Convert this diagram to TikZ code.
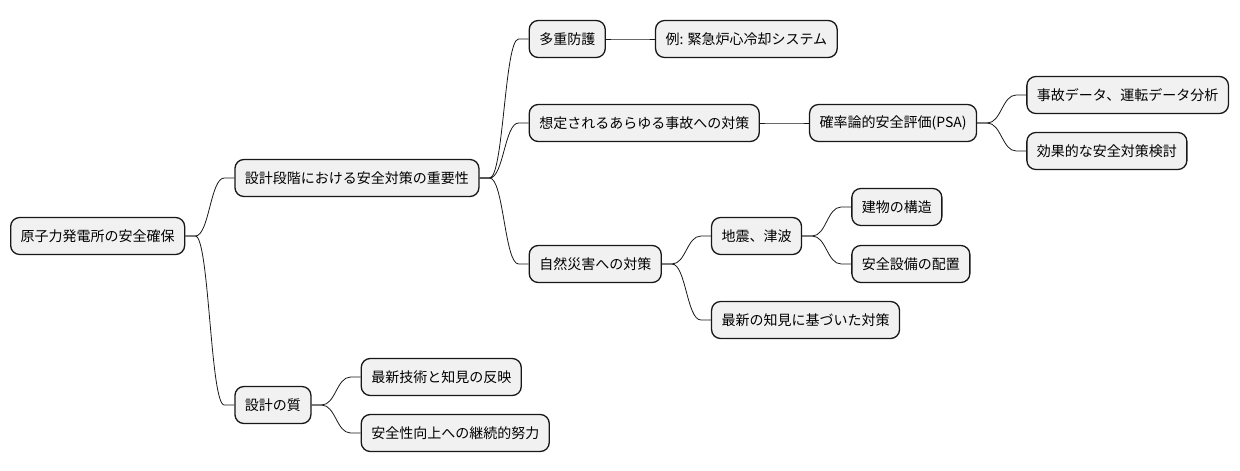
\documentclass[tikz,border=0pt]{standalone}
\usepackage{fontspec}
\newfontfamily\jpfont{Noto Sans CJK JP}
\usepackage{tikz}
\usetikzlibrary{positioning}
\definecolor{boxfill}{HTML}{F1F1F1}
\definecolor{boxline}{HTML}{181818}

\begin{document}
\begin{tikzpicture}[
  node distance=49pt,
  box/.style={draw=boxline, fill=boxfill, line width=1.3pt, rounded corners=9pt, font=\jpfont\fontsize{14pt}{16pt}\selectfont, minimum height=37pt, inner xsep=10pt, inner ysep=0pt},
  link/.style={draw=boxline, line width=0.8pt, to path={-- ([xshift=10pt]\tikztostart) .. controls ([xshift=24pt]\tikztostart) and ([xshift=-24pt]\tikztotarget) .. ([xshift=-10pt]\tikztotarget) -- (\tikztotarget)}}]
\useasboundingbox (0,0) rectangle (1240pt,-471pt);
\node[box, anchor=west] (root) at (10pt,-236pt) {原子力発電所の安全確保};
\node[box, right=of root, yshift=58pt] (s1) {設計段階における安全対策の重要性};
\node[box, right=of root, yshift=-169pt] (s2) {設計の質};
% design stage
\node[box, right=of s1, yshift=139pt] (a1) {多重防護};
\node[box, right=of a1] (b1) {例: 緊急炉心冷却システム};
\node[box, right=of s1, yshift=55pt] (a2) {想定されるあらゆる事故への対策};
\node[box, right=of a2] (b2) {確率論的安全評価(PSA)};
\node[box, right=of b2, yshift=28pt] (c1) {事故データ、運転データ分析};
\node[box, right=of b2, yshift=-28pt] (c2) {効果的な安全対策検討};
\node[box, right=of s1, yshift=-86pt] (a3) {自然災害への対策};
\node[box, right=of a3, yshift=28pt] (b3) {地震、津波};
\node[box, right=of b3, yshift=29pt] (c3) {建物の構造};
\node[box, right=of b3, yshift=-28pt] (c4) {安全設備の配置};
\node[box, right=of a3, yshift=-56pt] (b4) {最新の知見に基づいた対策};
% quality
\node[box, right=of s2, yshift=28pt] (d1) {最新技術と知見の反映};
\node[box, right=of s2, yshift=-28pt] (d2) {安全性向上への継続的努力};
\foreach \a/\b in {root/s1,root/s2,s1/a1,s1/a2,s1/a3,a1/b1,a2/b2,b2/c1,b2/c2,a3/b3,a3/b4,b3/c3,b3/c4,s2/d1,s2/d2}
  \draw[link] (\a.east) to (\b.west);
\end{tikzpicture}
\end{document}
